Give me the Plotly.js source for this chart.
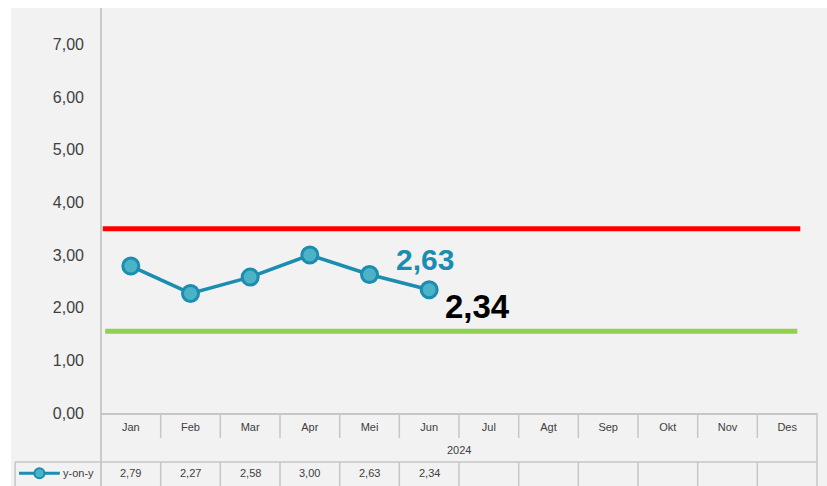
<!DOCTYPE html>
<html><head><meta charset="utf-8">
<script src="https://cdn.plot.ly/plotly-3.0.1.min.js"></script>
<style>html,body{margin:0;padding:0;background:#fff}#c{width:827px;height:486px}</style>
</head><body><div id="c"></div>
<script>
const months = ["Jan","Feb","Mar","Apr","Mei","Jun","Jul","Agt","Sep","Okt","Nov","Des"];
const yoy = [2.79, 2.27, 2.58, 3.00, 2.63, 2.34];
const yearLabel = "2024";
const seriesName = "y-on-y";
const targetUpper = 3.5;
const targetLower = 1.55;
const yTicks = [0,1,2,3,4,5,6,7];

const fmt = v => v.toFixed(2).replace('.', ',');
const grid = '#c6c6c6';
const idx = months.map((m,i)=>i);
const lineCol = '#1a8db0', fillCol = '#4cb3c6';

const traces = [{
  x: idx.slice(0, yoy.length), y: yoy, type: 'scatter', mode: 'lines+markers',
  line: {color: lineCol, width: 3.5},
  marker: {size: 16, color: fillCol, line: {color: lineCol, width: 3}},
  hoverinfo: 'skip', showlegend: false
}];

const shapes = [];
shapes.push({type:'rect', xref:'paper', yref:'paper', x0:-0.1257, x1:1.02, y0:-0.2, y1:1, fillcolor:'#f2f2f2', line:{width:0}, layer:'below'});
shapes.push({type:'line', xref:'x', yref:'y', x0:-0.47, x1:11.22, y0:targetUpper, y1:targetUpper, line:{color:'#ff0000', width:5}});
shapes.push({type:'line', xref:'x', yref:'y', x0:-0.43, x1:11.17, y0:targetLower, y1:targetLower, line:{color:'#92d050', width:5}});
const yMonthBot = -0.0617, yDataTop = -0.121, yDataBot = -0.19;
for (let i = 0; i < months.length - 1; i++) {
  shapes.push({type:'line', xref:'x', yref:'paper', x0:i+0.5, x1:i+0.5, y0:0, y1:yMonthBot, line:{color:grid, width:1.5}});
  shapes.push({type:'line', xref:'x', yref:'paper', x0:i+0.5, x1:i+0.5, y0:yDataTop, y1:yDataBot, line:{color:grid, width:1.5}});
}
shapes.push({type:'line', xref:'paper', yref:'paper', x0:1, x1:1, y0:0, y1:yDataBot, line:{color:grid, width:1.5}});
shapes.push({type:'line', xref:'paper', yref:'paper', x0:0, x1:0, y0:1, y1:yDataBot, line:{color:'#bdbdbd', width:1.5}});
shapes.push({type:'line', xref:'paper', yref:'paper', x0:-0.120, x1:1, y0:yDataTop, y1:yDataTop, line:{color:grid, width:1.5}});
shapes.push({type:'line', xref:'paper', yref:'paper', x0:-0.120, x1:-0.120, y0:yDataTop, y1:yDataBot, line:{color:grid, width:1.5}});
shapes.push({type:'line', xref:'paper', yref:'paper', x0:-0.1145, x1:-0.0575, y0:-0.149, y1:-0.149, line:{color:lineCol, width:3}});
shapes.push({type:'circle', xref:'paper', yref:'paper', xsizemode:'pixel', ysizemode:'pixel', xanchor:-0.086, yanchor:-0.149, x0:-5, x1:5, y0:-5, y1:5, fillcolor:fillCol, line:{color:lineCol, width:2}});

const fam = 'Liberation Sans Narrow, Liberation Sans, Arial';
const annotations = [];
annotations.push({xref:'paper', yref:'paper', x:-0.056, y:-0.149, text:seriesName, showarrow:false, xanchor:'left', yanchor:'middle', font:{size:11, color:'#404040', family:fam}});
annotations.push({xref:'paper', yref:'paper', x:0.5, y:-0.0915, text:yearLabel, showarrow:false, xanchor:'center', yanchor:'middle', font:{size:11, color:'#404040', family:fam}});
yoy.forEach((v,i)=>annotations.push({xref:'x', yref:'paper', x:i, y:-0.149, text:fmt(v), showarrow:false, yanchor:'middle', font:{size:11, color:'#404040', family:fam}}));
const iPrev = yoy.length - 2, iLast = yoy.length - 1;
annotations.push({xref:'x', yref:'y', x:iPrev, y:yoy[iPrev], text:'<b>'+fmt(yoy[iPrev])+'</b>', showarrow:false, xshift:55, yshift:15, font:{size:30, color:lineCol, family:fam}});
annotations.push({xref:'x', yref:'y', x:iLast, y:yoy[iLast], text:'<b>'+fmt(yoy[iLast])+'</b>', showarrow:false, xshift:48, yshift:-17, font:{size:33, color:'#000000', family:fam}});

const layout = {
  width: 827, height: 486,
  margin: {l:101, r:10, t:8, b:73, pad:0},
  paper_bgcolor: '#ffffff', plot_bgcolor: 'rgba(0,0,0,0)',
  separators: ',.',
  showlegend: false,
  xaxis: {range:[-0.5, 11.5], tickvals: idx, ticktext: months, showgrid:false, zeroline:false,
    showline:true, linecolor:grid, linewidth:1.5, ticks:'', fixedrange:true,
    tickfont:{size:11, color:'#404040', family:fam}, ticklabelstandoff: 3},
  yaxis: {range:[0, 7.69], tickvals: yTicks, tickformat: '.2f', showgrid:false, zeroline:false,
    showline:false, ticks:'', ticklabelstandoff: 16,
    tickfont:{size:16, color:'#404040', family:'Liberation Sans, Arial'}},
  shapes, annotations
};
Plotly.newPlot('c', traces, layout, {staticPlot:true, displayModeBar:false});
</script></body></html>
